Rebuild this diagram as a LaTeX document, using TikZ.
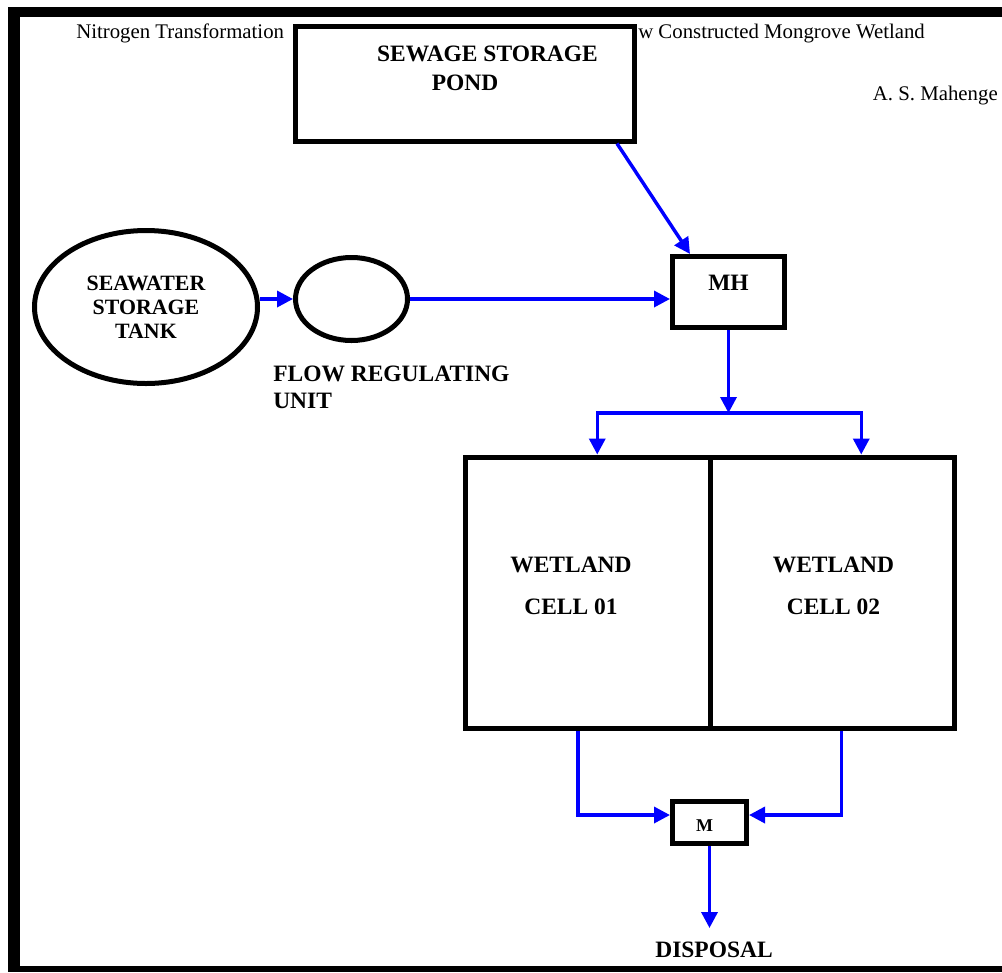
\documentclass[tikz,border=0pt]{standalone}
\usepackage{fontspec}
\setmainfont{Liberation Serif}
\usetikzlibrary{arrows.meta,shapes.geometric,calc}
\newdimen\upx \upx=0.75pt
\begin{document}
\begin{tikzpicture}[x=0.75pt,y=-0.75pt,
  box/.style={draw=black,line width=3.75pt,rectangle,fill=white,inner sep=0pt},
  oval/.style={draw=black,line width=3.75pt,ellipse,inner sep=0pt},
  flow/.style={draw=blue,line width=2.6pt,-{Triangle[length=12pt,width=12pt]}},
  hdr/.style={font=\fontsize{15.6pt}{18pt}\selectfont,inner sep=0pt},
  lbl/.style={font=\bfseries\fontsize{17.6pt}{21pt}\selectfont,inner sep=0pt},
]
\useasboundingbox (0,0) rectangle (1002,972);
% page frame
\fill (8,7) rectangle (1002,17);
\fill (8,7) rectangle (20,972);
\fill (8,966) rectangle (1002,972);
% header
\node[hdr,anchor=base west] (h1) at (76,38) {Nitrogen Transformation};
\node[hdr,anchor=base west] (h2) at (638,38) {w Constructed Mongrove Wetland};
\node[hdr,anchor=base east] (auth) at (998,100) {A. S. Mahenge};
% sewage pond
\node[box,minimum width=339\upx,minimum height=115\upx] (sew) at (465,83.5) {};
\node[lbl,anchor=base] (sewt1) at (487.5,61) {SEWAGE STORAGE};
\node[lbl,anchor=base] (sewt2) at (465,90) {POND};
% seawater tank and regulator
\node[oval,minimum width=223\upx,minimum height=153\upx,align=center,
      font=\bfseries\fontsize{16.4pt}{18pt}\selectfont] (sea) at (146,307) {SEAWATER\\STORAGE\\TANK};
\node[oval,minimum width=112\upx,minimum height=83\upx] (reg) at (351.5,299) {};
\node[lbl,align=left,anchor=west,font=\bfseries\fontsize{17.6pt}{20.25pt}\selectfont] (regt) at (273,387) {FLOW REGULATING\\UNIT};
% MH
\node[box,minimum width=112\upx,minimum height=71\upx] (mh) at (728.5,292) {};
\node[lbl] (mht) at (728.5,283) {MH};
% wetland cells
\node[box,minimum width=244.5\upx,minimum height=271.5\upx] (cell1) at (587.75,592.75) {};
\node[box,minimum width=244.5\upx,minimum height=271.5\upx] (cell2) at (832.25,592.75) {};
\node[lbl,align=center,font=\bfseries\fontsize{17.6pt}{31.5pt}\selectfont] (c1t) at (571,586) {WETLAND\\CELL 01};
\node[lbl,align=center,font=\bfseries\fontsize{17.6pt}{31.5pt}\selectfont] (c2t) at (833.5,586) {WETLAND\\CELL 02};
% M
\node[box,minimum width=74\upx,minimum height=42\upx] (mm) at (709.5,822.5) {};
\node[lbl,font=\bfseries\fontsize{13.5pt}{16pt}\selectfont] (mmt) at (704.5,826) {M};
\node[lbl] (disp) at (714,950) {DISPOSAL};
% connectors
\draw[flow] ($(sew.south east)+(-20,0)$) -- ($(mh.north)+(-38.5,0)$);
\draw[flow] (sea.east |- reg.west) -- (reg.west);
\draw[flow] (reg.east) -- (reg.east -| mh.west);
\coordinate (split) at ($(mh.south)+(0,83)$);
\draw[flow] (mh.south) -- (split);
\coordinate (b1) at ($(cell1.north)+(9.5,0)$);
\coordinate (b2) at ($(cell2.north)+(29,0)$);
\draw[flow] (split) -| (b1);
\draw[flow] (split) -| (b2);
\draw[flow] ($(cell1.south)+(-9.75,0)$) |- ($(mm.west)+(0,-7.5)$);
\draw[flow] ($(cell2.south)+(9,0)$) |- ($(mm.east)+(0,-7.5)$);
\coordinate (dend) at ($(mm.south)+(0,82)$);
\draw[flow] (mm.south) -- (dend);
\end{tikzpicture}
\end{document}
